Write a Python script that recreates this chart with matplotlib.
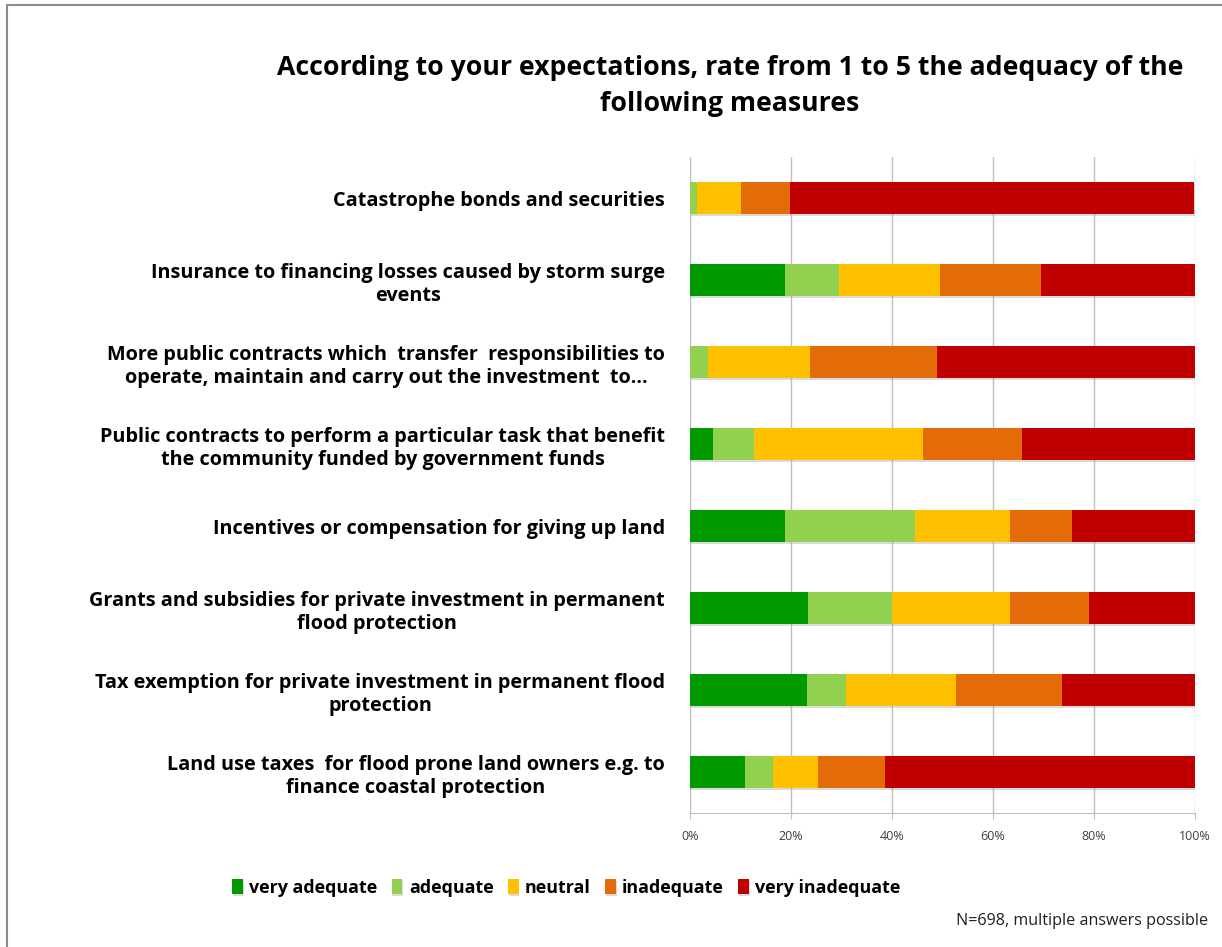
import matplotlib
matplotlib.use("Agg")
import matplotlib.pyplot as plt
import matplotlib.patheffects as pe
from matplotlib.patches import Rectangle
import numpy as np

measures = [
    "Catastrophe bonds and securities",
    "Insurance to financing losses caused by storm surge\nevents",
    "More public contracts which  transfer  responsibilities to\noperate, maintain and carry out the investment  to\u2026",
    "Public contracts to perform a particular task that benefit\nthe community funded by government funds",
    "Incentives or compensation for giving up land",
    "Grants and subsidies for private investment in permanent\nflood protection",
    "Tax exemption for private investment in permanent flood\nprotection",
    "Land use taxes  for flood prone land owners e.g. to\nfinance coastal protection",
]

ratings = ["very adequate", "adequate", "neutral", "inadequate", "very inadequate"]

# share of answers per measure (percent), one list per rating
very_adequate   = [0.0, 18.9, 0.0, 4.6, 18.9, 23.4, 23.1, 10.9]
adequate        = [1.3, 10.6, 3.6, 8.1, 25.6, 16.6, 7.7, 5.5]
neutral         = [8.7, 20.0, 20.2, 33.4, 18.9, 23.4, 21.9, 9.0]
inadequate      = [9.9, 20.1, 25.1, 19.6, 12.2, 15.7, 21.0, 13.2]
very_inadequate = [79.9, 30.4, 51.1, 34.3, 24.4, 20.9, 26.3, 61.4]

colors = ["#009900", "#92D050", "#FFC000", "#E36C09", "#C00000"]

plt.rcParams["font.family"] = ["Open Sans", "DejaVu Sans"]

fig = plt.figure(figsize=(12.22, 9.47), dpi=100)
ax = fig.add_axes([690 / 1222, 1 - 813 / 947, 505 / 1222, 656 / 947])

# frame line around the chart area
fig.patches.append(Rectangle((7 / 1222, -0.1), 1.2, 1 - 5 / 947 + 0.1,
                             transform=fig.transFigure, fill=False,
                             edgecolor="#8c8c8c", linewidth=1.5))

y = np.arange(len(measures))
left = np.zeros(len(measures))
series = [very_adequate, adequate, neutral, inadequate, very_inadequate]
shadow = [pe.SimplePatchShadow(offset=(0.5, -1.5), shadow_rgbFace="#999999", alpha=0.35),
          pe.Normal()]
for name, vals, col in zip(ratings, series, colors):
    vals = np.array(vals)
    bars = ax.barh(y, vals, left=left, height=0.4, color=col, label=name, zorder=3)
    for b in bars:
        b.set_path_effects(shadow)
    left += vals

ax.set_ylim(len(measures) - 0.5, -0.5)
ax.set_xlim(0, 100)
ax.set_xticks(np.arange(0, 101, 20))
ax.set_xticklabels([f"{v}%" for v in range(0, 101, 20)], fontsize=9, color="#404040")
ax.tick_params(axis="x", length=4, color="#bfbfbf", pad=8)
ax.xaxis.grid(True, color="#bfbfbf", linewidth=1, zorder=0)

ax.set_yticks(y)
ax.set_yticklabels(measures, fontsize=14.3, fontweight="bold", linespacing=1.26)
for lbl in ax.get_yticklabels():
    lbl.set_multialignment("center")
ax.tick_params(axis="y", length=0, pad=18)

for side in ["top", "right"]:
    ax.spines[side].set_visible(False)
ax.spines["left"].set_color("#bfbfbf")
ax.spines["bottom"].set_color("#bfbfbf")

fig.text(730 / 1222, 1 - 86 / 947,
         "According to your expectations, rate from 1 to 5 the adequacy of the\nfollowing measures",
         ha="center", va="center", fontsize=19.2, fontweight="bold", linespacing=1.46)

handles, labels = ax.get_legend_handles_labels()
fig.legend(handles, labels, ncol=5, loc="center left",
           bbox_to_anchor=(216 / 1222, 1 - 888 / 947), frameon=False,
           prop={"size": 12.9, "weight": "bold"}, handlelength=0.6,
           handleheight=0.9, handletextpad=0.35, columnspacing=0.8)

fig.text(1208 / 1222, 1 - 921 / 947, "N=698, multiple answers possible",
         ha="right", va="center", fontsize=11.6, color="#202020")

fig.savefig("out.png", dpi=100)
